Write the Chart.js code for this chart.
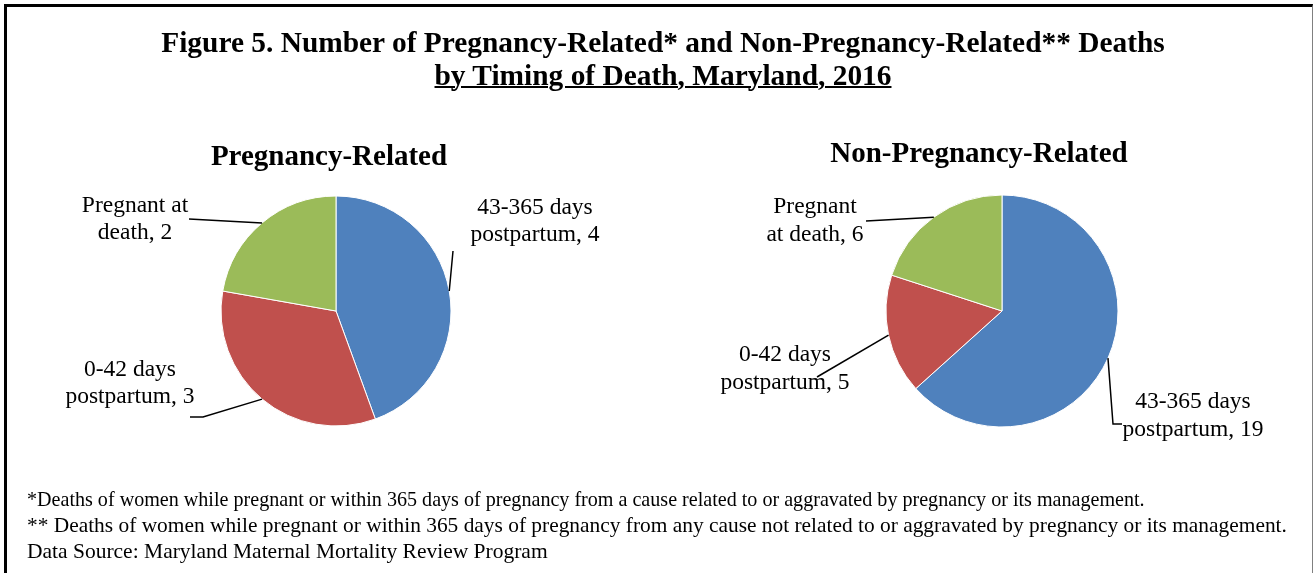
<!DOCTYPE html>
<html>
<head>
<meta charset="utf-8">
<script src="https://cdn.jsdelivr.net/npm/chart.js@4.4.1/dist/chart.umd.min.js"></script>
<style>
html,body{margin:0;padding:0;background:#fff;width:1315px;height:573px;overflow:hidden;}
#frame{position:absolute;left:4px;top:4px;width:1305px;height:620px;border-top:3px solid #000;border-left:3px solid #000;border-right:1px solid #808080;}
canvas{position:absolute;left:0;top:0;}
.t{position:absolute;font-family:'Liberation Serif','Times New Roman',serif;color:#000;white-space:nowrap;}
.title{left:663px;transform:translateX(-50%);font-weight:bold;font-size:29.4px;line-height:34px;}
.sub{font-weight:bold;font-size:29px;line-height:34px;transform:translateX(-50%);}
.foot{left:27px;font-size:21.5px;line-height:26px;}
</style>
</head>
<body>
<div id="frame"></div>
<canvas id="c1" width="1315" height="573"></canvas>
<canvas id="c2" width="1315" height="573"></canvas>
<div class="t title" style="top:25px">Figure 5. Number of Pregnancy-Related* and Non-Pregnancy-Related** Deaths</div>
<div class="t title" style="top:58px;text-decoration:underline;text-decoration-thickness:2px;">by Timing of Death, Maryland, 2016</div>
<div class="t sub" style="left:329px;top:138px">Pregnancy-Related</div>
<div class="t sub" style="left:979px;top:135px">Non-Pregnancy-Related</div>
<div class="t foot" style="top:486px;font-size:20.1px">*Deaths of women while pregnant or within 365 days of pregnancy from a cause related to or aggravated by pregnancy or its management.</div>
<div class="t foot" style="top:512px;font-size:21.4px">** Deaths of women while pregnant or within 365 days of pregnancy from any cause not related to or aggravated by pregnancy or its management.</div>
<div class="t foot" style="top:538px">Data Source: Maryland Maternal Mortality Review Program</div>
<script>
// ---- Data ----
const categories = ['43-365 days postpartum', '0-42 days postpartum', 'Pregnant at death'];
const pregnancyRelated = [4, 3, 2];
const nonPregnancyRelated = [19, 5, 6];
const sliceColors = ['#4F81BD', '#C0504D', '#9BBB59'];

// ---- Label layout (positions of the text labels and leader elbows) ----
const leftLabels = [
  { firstLineWords: 2, x: 535, ys: [208, 235], path: [[453, 251]] },
  { firstLineWords: 2, x: 130, ys: [370, 397], path: [[203, 417], [190, 417]] },
  { firstLineWords: 2, x: 135, ys: [206, 233], path: [[189, 219]] }
];
const rightLabels = [
  { firstLineWords: 2, x: 1193, ys: [402, 430], path: [[1113, 424], [1122, 424]] },
  { firstLineWords: 2, x: 785, ys: [355, 383], path: [[817, 377]] },
  { firstLineWords: 1, x: 815, ys: [207, 235], path: [[866, 221]] }
];

function wrapLabel(cat, val, n) {
  const words = (cat + ', ' + val).split(' ');
  return [words.slice(0, n).join(' '), words.slice(n).join(' ')];
}

const leaderPlugin = {
  id: 'leaders',
  afterDatasetsDraw(chart, args, opts) {
    const ctx = chart.ctx;
    const meta = chart.getDatasetMeta(0);
    const ds = chart.data.datasets[0];
    ctx.save();
    meta.data.forEach((arc, i) => {
      const p = arc.getProps(['x', 'y', 'startAngle', 'endAngle', 'outerRadius'], true);
      const mid = (p.startAngle + p.endAngle) / 2;
      const ex = p.x + Math.cos(mid) * p.outerRadius;
      const ey = p.y + Math.sin(mid) * p.outerRadius;
      const lab = opts.items[i];
      ctx.beginPath();
      ctx.moveTo(ex, ey);
      lab.path.forEach(([x, y]) => ctx.lineTo(x, y));
      ctx.strokeStyle = '#000';
      ctx.lineWidth = 1.5;
      ctx.stroke();
      const lines = wrapLabel(chart.data.labels[i], ds.data[i], lab.firstLineWords);
      ctx.font = '23.5px "Liberation Serif", "Times New Roman", serif';
      ctx.fillStyle = '#000';
      ctx.textAlign = 'center';
      ctx.textBaseline = 'middle';
      lines.forEach((t, j) => ctx.fillText(t, lab.x, lab.ys[j]));
    });
    ctx.restore();
  }
};

function makePie(id, values, radius, padding, items) {
  return new Chart(document.getElementById(id), {
    type: 'pie',
    data: {
      labels: categories,
      datasets: [{
        data: values,
        backgroundColor: sliceColors,
        borderColor: '#ffffff',
        borderWidth: 1,
        radius: radius
      }]
    },
    options: {
      responsive: false,
      animation: false,
      devicePixelRatio: 1,
      layout: { padding: padding },
      plugins: {
        legend: { display: false },
        tooltip: { enabled: false },
        title: { display: false },
        leaders: { items: items }
      }
    },
    plugins: [leaderPlugin]
  });
}

makePie('c1', pregnancyRelated, 115, { left: 221, right: 864, top: 196, bottom: 147 }, leftLabels);
makePie('c2', nonPregnancyRelated, 116, { left: 886, right: 197, top: 195, bottom: 146 }, rightLabels);
</script>
</body>
</html>
